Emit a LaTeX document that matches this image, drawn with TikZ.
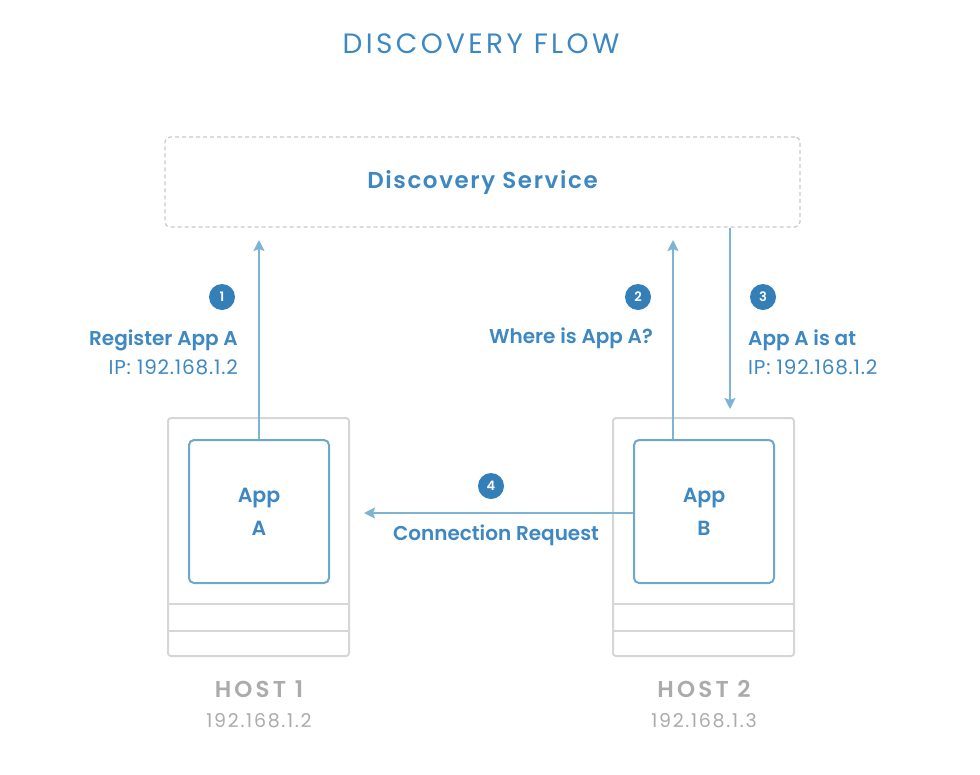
\documentclass[tikz,border=0pt]{standalone}
\usepackage{fontspec}
\setmainfont{Poppins}[BoldFont={* SemiBold}]
\newfontfamily\titlefont[LetterSpace=12]{Poppins}
\newfontfamily\dsfont[LetterSpace=7,BoldFont={* SemiBold}]{Poppins}
\newfontfamily\hostfont[LetterSpace=14,BoldFont={* SemiBold}]{Poppins}
\newfontfamily\ipfont[LetterSpace=9]{Poppins}
\newfontfamily\lblipfont[LetterSpace=4]{Poppins}
\usetikzlibrary{arrows.meta}
\definecolor{txtblue}{HTML}{3D88C2}
\definecolor{badgeblue}{HTML}{357FB8}
\definecolor{arrowblue}{HTML}{7DB3D3}
\definecolor{appline}{HTML}{6CA8CB}
\definecolor{hostline}{HTML}{D6D6D6}
\definecolor{dashgray}{HTML}{C9C9C9}
\definecolor{hosttxt}{HTML}{ABABAB}
\tikzset{
  flow/.style={draw=arrowblue, line width=2pt, -{Stealth[length=11pt,width=11pt,inset=2pt]}},
  hostbox/.style={draw=hostline, line width=2pt, rounded corners=3pt, minimum width=181pt, minimum height=238pt, inner sep=0pt},
  appbox/.style={draw=appline, line width=2pt, rounded corners=5pt, minimum width=140pt, minimum height=143pt, align=center, text=txtblue, font=\fontsize{20.5}{33}\selectfont\bfseries, fill=white, inner sep=0pt},
  badge/.style={circle, fill=badgeblue, text=white, minimum size=26pt, inner sep=0pt, font=\fontsize{13}{13}\selectfont\bfseries},
  lbl/.style={text=txtblue, font=\fontsize{20}{29}\selectfont\bfseries, inner sep=0pt},
  hostlbl/.style={text=hosttxt, font=\fontsize{23}{23}\selectfont\hostfont\bfseries, inner sep=0pt},
  iplbl/.style={text=hosttxt, font=\fontsize{19}{19}\selectfont\ipfont, inner sep=0pt},
  divider/.style={draw=hostline, line width=2pt}
}
\begin{document}
\begin{tikzpicture}[x=1pt,y=-1pt]
\useasboundingbox (0,0) rectangle (980,774);
% title
\node[text=txtblue, font=\fontsize{28}{28}\selectfont\titlefont, inner sep=0pt] (title) at (481,44) {DISCOVERY FLOW};
% discovery service
\node[draw=dashgray, line width=1.3pt, dash pattern=on 4pt off 3pt, rounded corners=5pt, minimum width=635pt, minimum height=90pt, inner sep=0pt, text=txtblue, font=\fontsize{23}{23}\selectfont\dsfont\bfseries] (ds) at (482.5,182) {Discovery Service};
% hosts
\node[hostbox] (h1) at (258.5,537) {};
\node[hostbox] (h2) at (703.5,537) {};
\draw[divider] (h1.west |- 0,604) -- (h1.east |- 0,604);
\draw[divider] (h1.west |- 0,631) -- (h1.east |- 0,631);
\draw[divider] (h2.west |- 0,604) -- (h2.east |- 0,604);
\draw[divider] (h2.west |- 0,631) -- (h2.east |- 0,631);
\node[appbox] (appA) at (259,511.5) {App\\A};
\node[appbox] (appB) at (704,511.5) {App\\B};
\node[hostlbl] (h1t) at (259,689) {HOST 1};
\node[hostlbl] (h2t) at (704,689) {HOST 2};
\node[iplbl] (h1ip) at (259,721) {192.168.1.2};
\node[iplbl] (h2ip) at (704,721) {192.168.1.3};
% arrow end points
\coordinate (t1) at (259,240);
\coordinate (t2) at (673,240);
\coordinate (t3) at (730,409);
\coordinate (t4) at (364,513);
\draw[flow] (appA.north) -- (t1);
\draw[flow] (appB.north -| t2) -- (t2);
\draw[flow] (ds.south -| t3) -- (t3);
\draw[flow] (appB.west |- t4) -- (t4);
% badges
\node[badge] (b1) at (222,297) {1};
\node[badge] (b2) at (638,297) {2};
\node[badge] (b3) at (763,297) {3};
\node[badge] (b4) at (491,486) {4};
% labels
\node[lbl, anchor=east, align=right] (l1) at (238,352.5) {Register App A\\{\lblipfont\mdseries IP: 192.168.1.2}};
\node[lbl, anchor=east] (l2) at (653,338) {Where is App A?};
\node[lbl, anchor=west, align=left] (l3) at (748,352.5) {App A is at\\{\lblipfont\mdseries IP: 192.168.1.2}};
\node[lbl] (l4) at (496,535) {Connection Request};
\end{tikzpicture}
\end{document}
